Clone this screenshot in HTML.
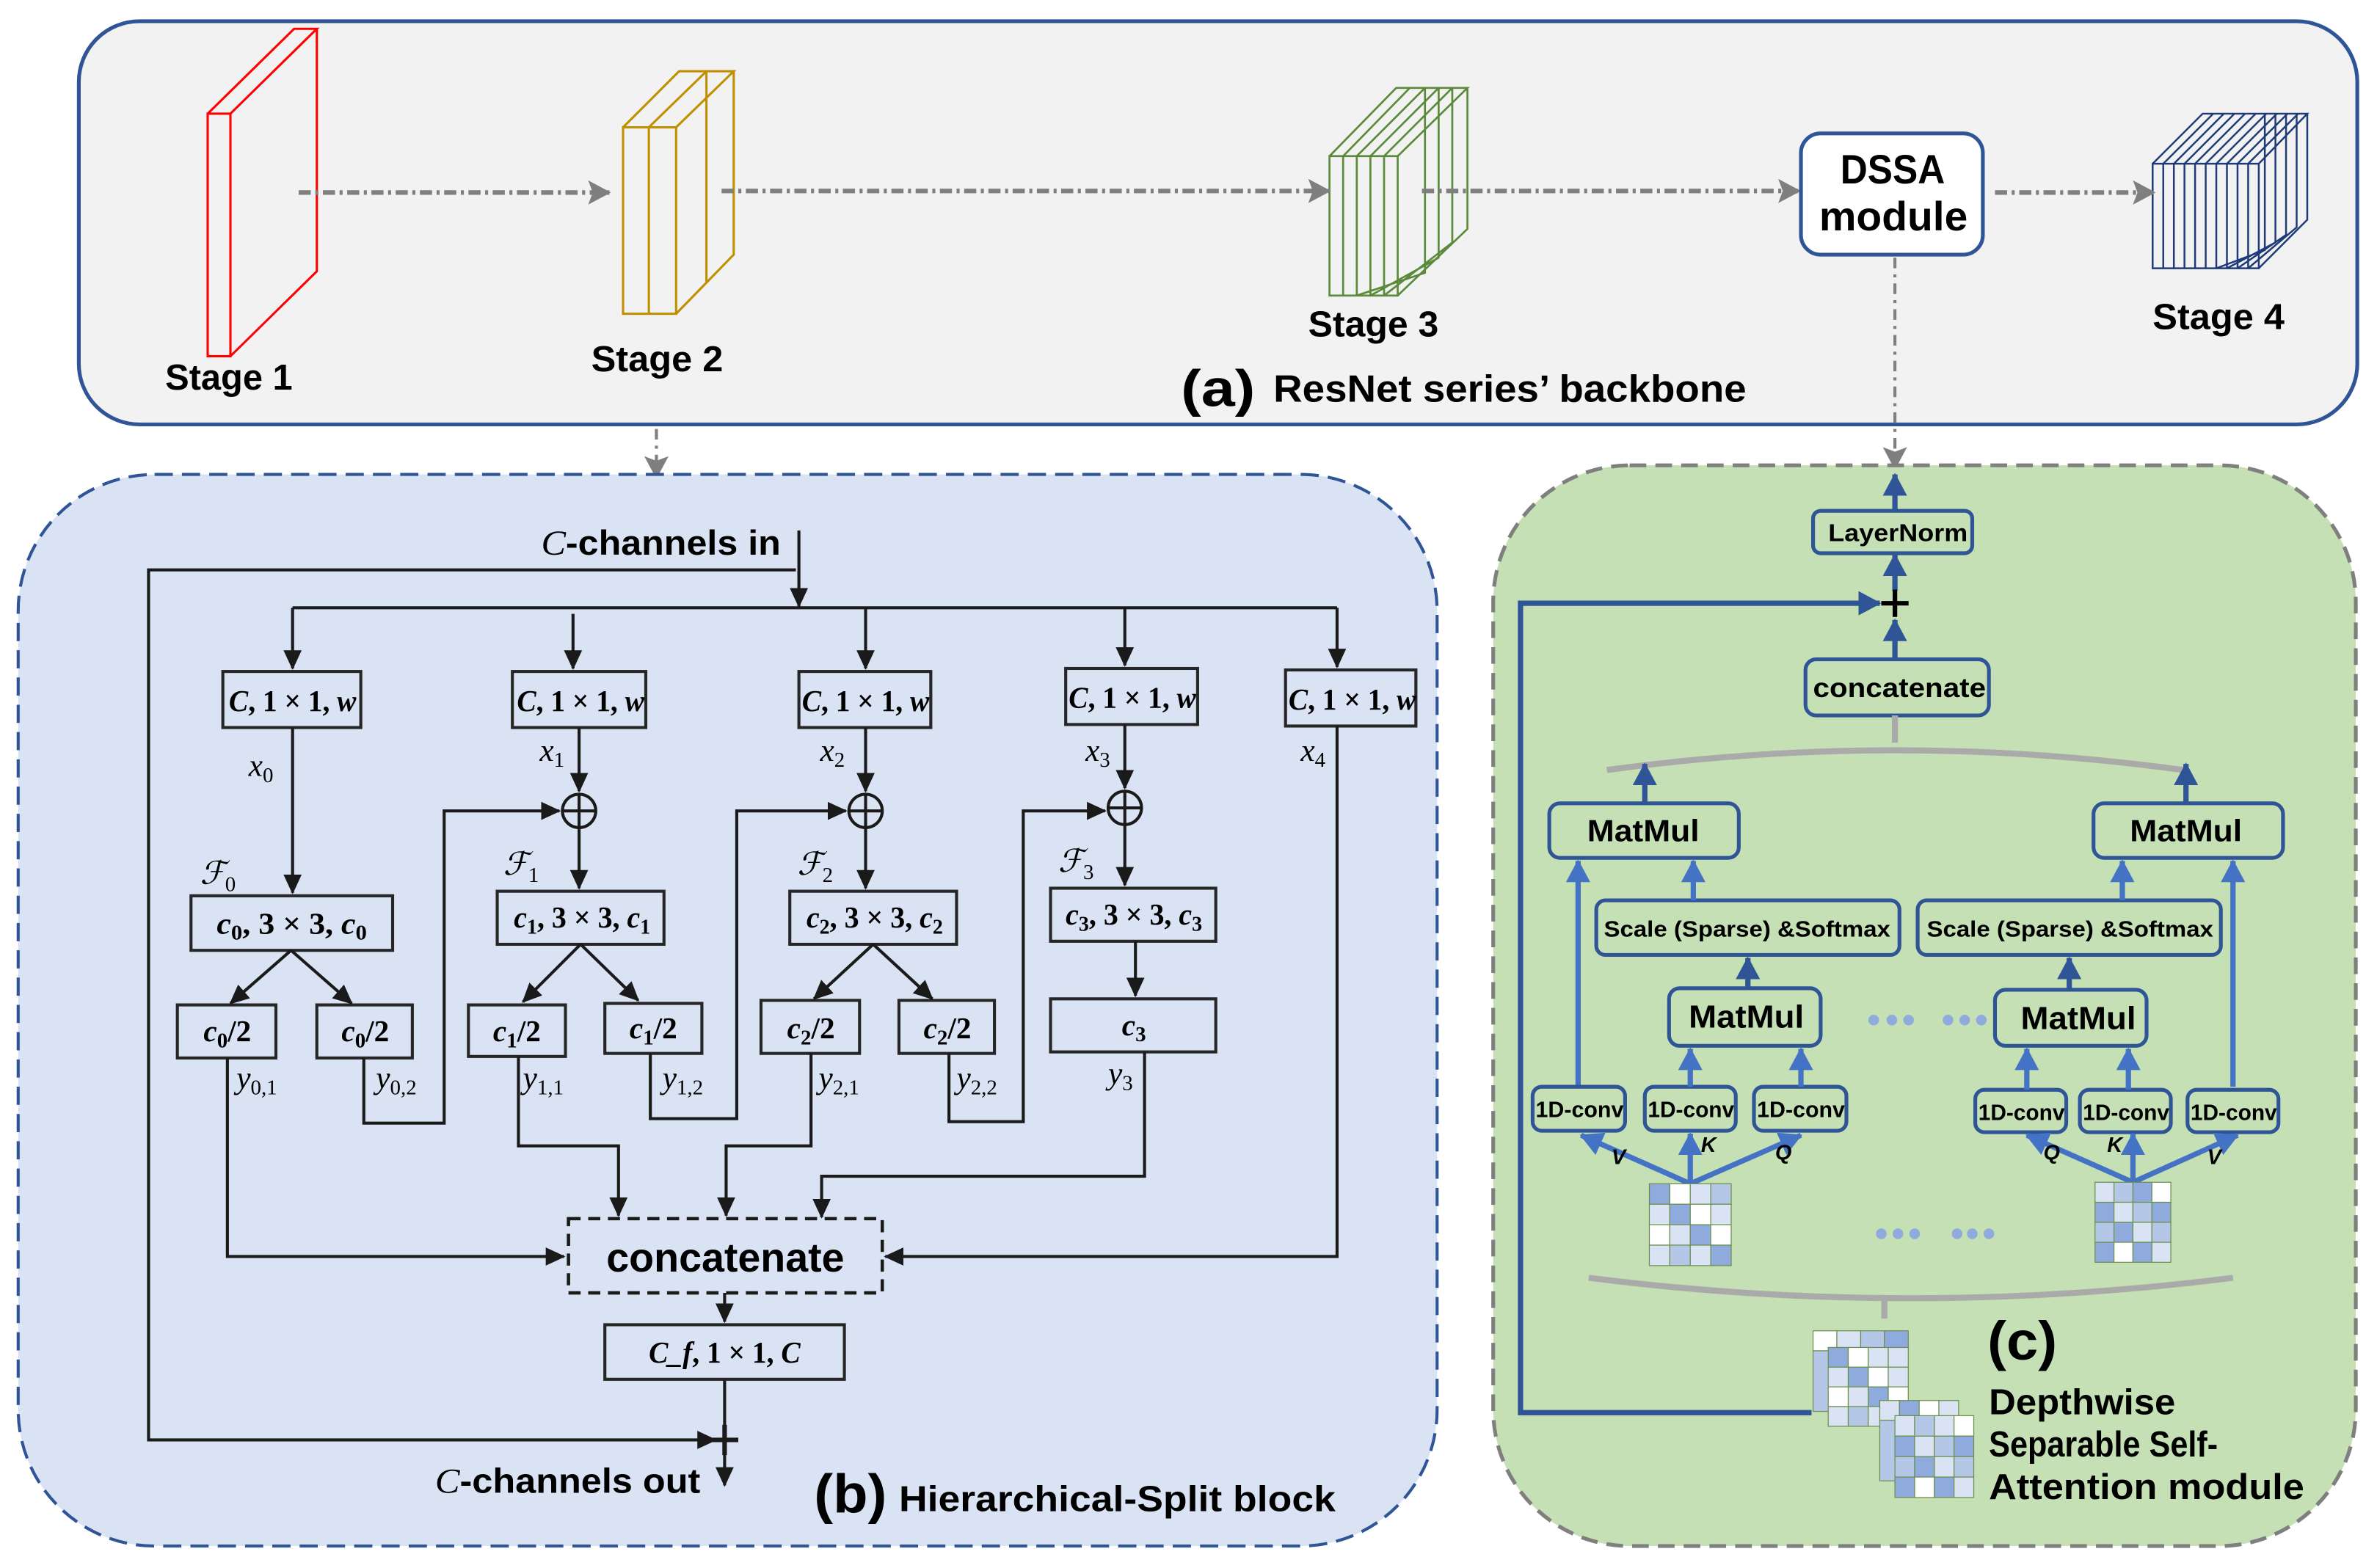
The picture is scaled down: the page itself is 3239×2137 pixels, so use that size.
<!DOCTYPE html>
<html><head><meta charset="utf-8"><style>html,body{margin:0;padding:0;background:#fff}svg{display:block}</style></head><body>
<svg width="3239" height="2137" viewBox="0 0 1568 1034.5" preserveAspectRatio="none" xmlns="http://www.w3.org/2000/svg">
<defs>
<marker id="ab" markerUnits="userSpaceOnUse" markerWidth="14" markerHeight="14" refX="12" refY="7" orient="auto"><path d="M0,1 L13,7 L0,13 Z" fill="#1a1a1a"/></marker>
<marker id="ag" markerUnits="userSpaceOnUse" markerWidth="16" markerHeight="16" refX="14" refY="8" orient="auto"><path d="M0,0 L15,8 L0,16 L3,8 Z" fill="#7f7f7f"/></marker>
<marker id="al" markerUnits="userSpaceOnUse" markerWidth="16" markerHeight="16" refX="14" refY="8" orient="auto"><path d="M0,0 L15,8 L0,16 Z" fill="#4472c4"/></marker>
<marker id="ad" markerUnits="userSpaceOnUse" markerWidth="16" markerHeight="16" refX="14" refY="8" orient="auto"><path d="M0,0 L15,8 L0,16 Z" fill="#2f5597"/></marker>
</defs>
<style>
.b{font-family:"Liberation Sans",sans-serif;font-weight:bold;fill:#000}
.m{font-family:"Liberation Serif",serif;fill:#000}
.i{font-style:italic}
.bx{fill:none;stroke:#262626;stroke-width:2}
.ln{fill:none;stroke:#1a1a1a;stroke-width:2}
.cb{fill:#c5e0b4;stroke:#2f5597;stroke-width:2.5}
.lb{stroke:#4472c4;stroke-width:3.5;fill:none}
.db{stroke:#2f5597;stroke-width:3.5;fill:none}
</style>

<!-- Panel (a) -->
<rect x="52" y="14" width="1503" height="266" rx="40" fill="#f2f2f2" stroke="#2f5597" stroke-width="2.5"/>
<g fill="none" stroke="#ff0000" stroke-width="1.5">
<rect x="137" y="75" width="15" height="160"/>
<path d="M137,75 L194,19 L209,19 L152,75 M209,19 L209,179 L152,235"/>
</g>
<g fill="none" stroke="#c09000" stroke-width="1.5">
<rect x="411" y="84" width="35" height="123"/>
<path d="M428,84 V207 M411,84 L448,47 L484,47 L446,84 M466,47 L428,84 M484,47 V168 L446,207 M466,47 V187"/>
</g>
<g fill="none" stroke="#5a8a3a" stroke-width="1.3">
<rect x="877" y="103" width="45" height="92"/>
<path d="M886,103 V195 M895,103 V195 M904,103 V195 M913,103 V195 M877,103 L921,58 L968,58 L922,103 M930,58 L886,103 M940,58 L895,103 M949,58 L904,103 M958,58 L913,103 M968,58 V151 L922,195 M958,58 V160 L913,195 M949,58 V170 L904,195 M940,58 V180 L895,195"/>
</g>
<g fill="none" stroke="#1f3a78" stroke-width="1.2">
<rect x="1420" y="108" width="70" height="69"/>
<path d="M1427,108 V177 M1434,108 V177 M1441,108 V177 M1448,108 V177 M1455,108 V177 M1462,108 V177 M1469,108 V177 M1476,108 V177 M1483,108 V177 M1420,108 L1453,75 L1522,75 L1490,108 M1522,75 V145 L1490,177"/>
<path d="M1460,75 L1427,108 M1467,75 L1434,108 M1474,75 L1441,108 M1481,75 L1448,108 M1488,75 L1455,108 M1495,75 L1462,108 M1502,75 L1469,108 M1509,75 L1476,108 M1516,75 L1483,108"/>
<path d="M1515,75 V150 L1483,177 M1508,75 V155 L1476,177 M1501,75 V160 L1469,177 M1494,75 V165 L1462,177"/>
</g>
<g stroke="#7f7f7f" stroke-width="3" stroke-dasharray="8,3,2,3" fill="none">
<line x1="197" y1="127" x2="402" y2="127" marker-end="url(#ag)"/>
<line x1="476" y1="126" x2="877" y2="126" marker-end="url(#ag)"/>
<line x1="938" y1="126" x2="1187" y2="126" marker-end="url(#ag)"/>
<line x1="1316" y1="127" x2="1421" y2="127" marker-end="url(#ag)"/>
</g>
<rect x="1188" y="88" width="120" height="80" rx="13" fill="#fff" stroke="#2f5597" stroke-width="2.5"/>
<text class="b" x="1214" y="121" font-size="27" textLength="69" lengthAdjust="spacingAndGlyphs">DSSA</text>
<text class="b" x="1200" y="152" font-size="27" textLength="98" lengthAdjust="spacingAndGlyphs">module</text>
<text class="b" x="109" y="257" font-size="24" textLength="84" lengthAdjust="spacingAndGlyphs">Stage 1</text>
<text class="b" x="390" y="245" font-size="24" textLength="87" lengthAdjust="spacingAndGlyphs">Stage 2</text>
<text class="b" x="863" y="222" font-size="24" textLength="86" lengthAdjust="spacingAndGlyphs">Stage 3</text>
<text class="b" x="1420" y="217" font-size="24" textLength="87" lengthAdjust="spacingAndGlyphs">Stage 4</text>
<text class="b" x="779" y="268" font-size="34" textLength="49" lengthAdjust="spacingAndGlyphs">(a)</text>
<text class="b" x="840" y="265" font-size="25" textLength="312" lengthAdjust="spacingAndGlyphs">ResNet series’ backbone</text>
<g stroke="#7f7f7f" stroke-width="2" stroke-dasharray="7,4,2,4" fill="none">
<line x1="433" y1="283" x2="433" y2="315" marker-end="url(#ag)"/>
<line x1="1250" y1="170" x2="1250" y2="309" marker-end="url(#ag)"/>
</g>

<!-- Panel (b) -->
<rect x="12" y="313" width="936" height="707" rx="90" fill="#dae3f3" stroke="#2f5597" stroke-width="2" stroke-dasharray="12,6"/>
<text class="b" x="357" y="366" font-size="23" textLength="158" lengthAdjust="spacingAndGlyphs"><tspan class="m i" font-weight="normal">C</tspan>-channels in</text>
<line class="ln" x1="527" y1="350" x2="527" y2="400" marker-end="url(#ab)"/>
<path class="ln" d="M525,376 H98 V950 H472" marker-end="url(#ab)"/>
<path class="ln" d="M193,401 H882"/>
<g class="ln">
<line x1="193" y1="401" x2="193" y2="441" marker-end="url(#ab)"/>
<line x1="378" y1="405" x2="378" y2="441" marker-end="url(#ab)"/>
<line x1="571" y1="401" x2="571" y2="441" marker-end="url(#ab)"/>
<line x1="742" y1="401" x2="742" y2="439" marker-end="url(#ab)"/>
<line x1="882" y1="401" x2="882" y2="440" marker-end="url(#ab)"/>
</g>
<g class="bx">
<rect x="147" y="443" width="91" height="37"/><rect x="338" y="443" width="88" height="37"/><rect x="527" y="443" width="87" height="37"/><rect x="703" y="441" width="87" height="37"/><rect x="848" y="442" width="86" height="37"/>
</g>
<g class="m" font-size="20" font-weight="bold">
<text x="151" y="469" textLength="84" lengthAdjust="spacingAndGlyphs"><tspan class="i">C</tspan>, 1 × 1, <tspan class="i">w</tspan></text>
<text x="341" y="469" textLength="84" lengthAdjust="spacingAndGlyphs"><tspan class="i">C</tspan>, 1 × 1, <tspan class="i">w</tspan></text>
<text x="529" y="469" textLength="84" lengthAdjust="spacingAndGlyphs"><tspan class="i">C</tspan>, 1 × 1, <tspan class="i">w</tspan></text>
<text x="705" y="467" textLength="84" lengthAdjust="spacingAndGlyphs"><tspan class="i">C</tspan>, 1 × 1, <tspan class="i">w</tspan></text>
<text x="850" y="468" textLength="84" lengthAdjust="spacingAndGlyphs"><tspan class="i">C</tspan>, 1 × 1, <tspan class="i">w</tspan></text>
</g>
<g class="m" font-size="21">
<text x="164" y="512"><tspan class="i">x</tspan><tspan font-size="14" dy="4">0</tspan></text>
<text x="356" y="502"><tspan class="i">x</tspan><tspan font-size="14" dy="4">1</tspan></text>
<text x="541" y="502"><tspan class="i">x</tspan><tspan font-size="14" dy="4">2</tspan></text>
<text x="716" y="502"><tspan class="i">x</tspan><tspan font-size="14" dy="4">3</tspan></text>
<text x="858" y="502"><tspan class="i">x</tspan><tspan font-size="14" dy="4">4</tspan></text>
<text x="132" y="583"><tspan class="i">ℱ</tspan><tspan font-size="14" dy="5">0</tspan></text>
<text x="332" y="577"><tspan class="i">ℱ</tspan><tspan font-size="14" dy="5">1</tspan></text>
<text x="526" y="577"><tspan class="i">ℱ</tspan><tspan font-size="14" dy="5">2</tspan></text>
<text x="698" y="575"><tspan class="i">ℱ</tspan><tspan font-size="14" dy="5">3</tspan></text>
<text x="156" y="718"><tspan class="i">y</tspan><tspan font-size="14" dy="4">0,1</tspan></text>
<text x="248" y="718"><tspan class="i">y</tspan><tspan font-size="14" dy="4">0,2</tspan></text>
<text x="345" y="718"><tspan class="i">y</tspan><tspan font-size="14" dy="4">1,1</tspan></text>
<text x="437" y="718"><tspan class="i">y</tspan><tspan font-size="14" dy="4">1,2</tspan></text>
<text x="540" y="718"><tspan class="i">y</tspan><tspan font-size="14" dy="4">2,1</tspan></text>
<text x="631" y="718"><tspan class="i">y</tspan><tspan font-size="14" dy="4">2,2</tspan></text>
<text x="731" y="715"><tspan class="i">y</tspan><tspan font-size="14" dy="4">3</tspan></text>
</g>
<g fill="none" stroke="#1a1a1a" stroke-width="2">
<circle cx="382" cy="535" r="11"/><path d="M371,535 H393 M382,524 V546"/>
<circle cx="571" cy="535" r="11"/><path d="M560,535 H582 M571,524 V546"/>
<circle cx="742" cy="533" r="11"/><path d="M731,533 H753 M742,522 V544"/>
</g>
<g class="ln">
<line x1="193" y1="480" x2="193" y2="589" marker-end="url(#ab)"/>
<line x1="382" y1="480" x2="382" y2="522" marker-end="url(#ab)"/>
<line x1="382" y1="546" x2="382" y2="586" marker-end="url(#ab)"/>
<line x1="571" y1="480" x2="571" y2="522" marker-end="url(#ab)"/>
<line x1="571" y1="546" x2="571" y2="586" marker-end="url(#ab)"/>
<line x1="742" y1="478" x2="742" y2="520" marker-end="url(#ab)"/>
<line x1="742" y1="544" x2="742" y2="584" marker-end="url(#ab)"/>
</g>
<g class="bx">
<rect x="126" y="591" width="133" height="36"/><rect x="328" y="588" width="110" height="35"/><rect x="521" y="588" width="110" height="35"/><rect x="693" y="586" width="109" height="35"/>
<rect x="117" y="663" width="65" height="35"/><rect x="209" y="663" width="63" height="35"/>
<rect x="309" y="663" width="64" height="34"/><rect x="399" y="662" width="64" height="33"/>
<rect x="502" y="660" width="65" height="35"/><rect x="593" y="660" width="63" height="35"/>
<rect x="693" y="659" width="109" height="35"/>
</g>
<g class="m" font-size="20" font-weight="bold">
<text x="143" y="616" textLength="99" lengthAdjust="spacingAndGlyphs"><tspan class="i">c</tspan><tspan font-size="14" dy="4">0</tspan><tspan dy="-4">, 3 × 3, </tspan><tspan class="i">c</tspan><tspan font-size="14" dy="4">0</tspan></text>
<text x="339" y="612" textLength="90" lengthAdjust="spacingAndGlyphs"><tspan class="i">c</tspan><tspan font-size="14" dy="4">1</tspan><tspan dy="-4">, 3 × 3, </tspan><tspan class="i">c</tspan><tspan font-size="14" dy="4">1</tspan></text>
<text x="532" y="612" textLength="90" lengthAdjust="spacingAndGlyphs"><tspan class="i">c</tspan><tspan font-size="14" dy="4">2</tspan><tspan dy="-4">, 3 × 3, </tspan><tspan class="i">c</tspan><tspan font-size="14" dy="4">2</tspan></text>
<text x="703" y="610" textLength="90" lengthAdjust="spacingAndGlyphs"><tspan class="i">c</tspan><tspan font-size="14" dy="4">3</tspan><tspan dy="-4">, 3 × 3, </tspan><tspan class="i">c</tspan><tspan font-size="14" dy="4">3</tspan></text>
<g text-anchor="middle">
<text x="150" y="687"><tspan class="i">c</tspan><tspan font-size="14" dy="4">0</tspan><tspan dy="-4">/2</tspan></text>
<text x="241" y="687"><tspan class="i">c</tspan><tspan font-size="14" dy="4">0</tspan><tspan dy="-4">/2</tspan></text>
<text x="341" y="687"><tspan class="i">c</tspan><tspan font-size="14" dy="4">1</tspan><tspan dy="-4">/2</tspan></text>
<text x="431" y="685"><tspan class="i">c</tspan><tspan font-size="14" dy="4">1</tspan><tspan dy="-4">/2</tspan></text>
<text x="535" y="685"><tspan class="i">c</tspan><tspan font-size="14" dy="4">2</tspan><tspan dy="-4">/2</tspan></text>
<text x="625" y="685"><tspan class="i">c</tspan><tspan font-size="14" dy="4">2</tspan><tspan dy="-4">/2</tspan></text>
<text x="748" y="683"><tspan class="i">c</tspan><tspan font-size="14" dy="4">3</tspan></text>
</g>
</g>
<g class="ln">
<line x1="192" y1="627" x2="152" y2="662" marker-end="url(#ab)"/>
<line x1="192" y1="627" x2="232" y2="662" marker-end="url(#ab)"/>
<line x1="383" y1="623" x2="345" y2="661" marker-end="url(#ab)"/>
<line x1="383" y1="623" x2="421" y2="660" marker-end="url(#ab)"/>
<line x1="576" y1="623" x2="537" y2="659" marker-end="url(#ab)"/>
<line x1="576" y1="623" x2="615" y2="659" marker-end="url(#ab)"/>
<line x1="749" y1="621" x2="749" y2="657" marker-end="url(#ab)"/>
<path d="M150,698 V829 H372" marker-end="url(#ab)"/>
<path d="M240,698 V741 H293 V535 H369" marker-end="url(#ab)"/>
<path d="M342,697 V756 H408 V802" marker-end="url(#ab)"/>
<path d="M429,695 V738 H486 V535 H558" marker-end="url(#ab)"/>
<path d="M535,695 V756 H479 V802" marker-end="url(#ab)"/>
<path d="M626,695 V740 H675 V535 H729" marker-end="url(#ab)"/>
<path d="M755,694 V776 H542 V803" marker-end="url(#ab)"/>
<path d="M882,479 V829 H584" marker-end="url(#ab)"/>
<line x1="478" y1="853" x2="478" y2="872" marker-end="url(#ab)"/>
<line x1="478" y1="910" x2="478" y2="980" marker-end="url(#ab)"/>
<line x1="470" y1="950" x2="487" y2="950" stroke-width="3"/>
<line x1="478" y1="940" x2="478" y2="960" stroke-width="3"/>
</g>
<rect x="375" y="804" width="207" height="49" fill="none" stroke="#1a1a1a" stroke-width="2.2" stroke-dasharray="8,5"/>
<text class="b" x="400" y="839" font-size="27" textLength="157" lengthAdjust="spacingAndGlyphs">concatenate</text>
<rect class="bx" x="399" y="874" width="158" height="36"/>
<text class="m" x="428" y="899" font-size="20" font-weight="bold" textLength="100" lengthAdjust="spacingAndGlyphs"><tspan class="i">C_f</tspan>, 1 × 1, <tspan class="i">C</tspan></text>
<text class="b" x="287" y="985" font-size="23" textLength="175" lengthAdjust="spacingAndGlyphs"><tspan class="m i" font-weight="normal">C</tspan>-channels out</text>
<text class="b" x="537" y="998" font-size="36" textLength="48" lengthAdjust="spacingAndGlyphs">(b)</text>
<text class="b" x="593" y="997" font-size="24" textLength="288" lengthAdjust="spacingAndGlyphs">Hierarchical-Split block</text>

<!-- Panel (c) -->
<rect x="985" y="307" width="569" height="713" rx="90" fill="#c5e0b4" stroke="#7f7f7f" stroke-width="2.5" stroke-dasharray="11,6"/>
<rect class="cb" x="1196" y="337" width="105" height="28" rx="5"/>
<text class="b" x="1206" y="357" font-size="16" textLength="92" lengthAdjust="spacingAndGlyphs">LayerNorm</text>
<line class="db" x1="1250" y1="337" x2="1250" y2="313" marker-end="url(#ad)"/>
<line class="db" x1="1250" y1="390" x2="1250" y2="366" marker-end="url(#ad)"/>
<path class="db" d="M1195,932 H1003 V398 H1240" stroke-width="3" marker-end="url(#ad)"/>
<path d="M1241,398 H1259 M1250,389 V407" stroke="#000" stroke-width="3"/>
<line class="db" x1="1250" y1="435" x2="1250" y2="409" marker-end="url(#ad)"/>
<rect class="cb" x="1191" y="435" width="121" height="37" rx="7"/>
<text class="b" x="1196" y="460" font-size="18" textLength="114" lengthAdjust="spacingAndGlyphs">concatenate</text>
<path d="M1250,472 V490 M1060,508 Q1250,482 1440,508" stroke="#aaaaaa" stroke-width="4" fill="none"/>
<rect class="cb" x="1022" y="530" width="125" height="36" rx="7"/>
<rect class="cb" x="1381" y="530" width="125" height="36" rx="7"/>
<text class="b" x="1047" y="555" font-size="20" textLength="74" lengthAdjust="spacingAndGlyphs">MatMul</text>
<text class="b" x="1405" y="555" font-size="20" textLength="74" lengthAdjust="spacingAndGlyphs">MatMul</text>
<line class="db" x1="1085" y1="530" x2="1085" y2="504" marker-end="url(#ad)"/>
<line class="db" x1="1442" y1="530" x2="1442" y2="504" marker-end="url(#ad)"/>
<rect class="cb" x="1053" y="594" width="200" height="36" rx="6"/>
<rect class="cb" x="1265" y="594" width="200" height="36" rx="6"/>
<text class="b" x="1058" y="618" font-size="15" textLength="189" lengthAdjust="spacingAndGlyphs">Scale (Sparse) &amp;Softmax</text>
<text class="b" x="1271" y="618" font-size="15" textLength="189" lengthAdjust="spacingAndGlyphs">Scale (Sparse) &amp;Softmax</text>
<line class="lb" x1="1117" y1="594" x2="1117" y2="568" marker-end="url(#al)"/>
<line class="lb" x1="1400" y1="594" x2="1400" y2="568" marker-end="url(#al)"/>
<line class="lb" x1="1041" y1="716" x2="1041" y2="568" marker-end="url(#al)"/>
<line class="lb" x1="1473" y1="717" x2="1473" y2="568" marker-end="url(#al)"/>
<rect class="cb" x="1101" y="652" width="100" height="38" rx="7"/>
<rect class="cb" x="1316" y="653" width="100" height="37" rx="7"/>
<text class="b" x="1114" y="678" font-size="21" textLength="76" lengthAdjust="spacingAndGlyphs">MatMul</text>
<text class="b" x="1333" y="679" font-size="21" textLength="76" lengthAdjust="spacingAndGlyphs">MatMul</text>
<line class="db" x1="1153" y1="652" x2="1153" y2="632" marker-end="url(#ad)"/>
<line class="db" x1="1365" y1="653" x2="1365" y2="632" marker-end="url(#ad)"/>
<g class="cb">
<rect x="1011" y="717" width="61" height="29" rx="6"/><rect x="1085" y="717" width="60" height="29" rx="6"/><rect x="1157" y="717" width="61" height="29" rx="6"/>
<rect x="1303" y="719" width="60" height="28" rx="6"/><rect x="1372" y="719" width="60" height="28" rx="6"/><rect x="1443" y="719" width="60" height="28" rx="6"/>
</g>
<g class="b" font-size="15">
<text x="1013" y="737" textLength="58" lengthAdjust="spacingAndGlyphs">1D-conv</text><text x="1087" y="737" textLength="57" lengthAdjust="spacingAndGlyphs">1D-conv</text><text x="1159" y="737" textLength="58" lengthAdjust="spacingAndGlyphs">1D-conv</text>
<text x="1305" y="739" textLength="57" lengthAdjust="spacingAndGlyphs">1D-conv</text><text x="1374" y="739" textLength="57" lengthAdjust="spacingAndGlyphs">1D-conv</text><text x="1445" y="739" textLength="57" lengthAdjust="spacingAndGlyphs">1D-conv</text>
</g>
<g class="lb">
<line x1="1115" y1="717" x2="1115" y2="692" marker-end="url(#al)"/>
<line x1="1188" y1="717" x2="1188" y2="692" marker-end="url(#al)"/>
<line x1="1337" y1="719" x2="1337" y2="692" marker-end="url(#al)"/>
<line x1="1404" y1="719" x2="1404" y2="692" marker-end="url(#al)"/>
<line x1="1115" y1="781" x2="1043" y2="749" marker-end="url(#al)"/>
<line x1="1115" y1="781" x2="1115" y2="748" marker-end="url(#al)"/>
<line x1="1115" y1="781" x2="1188" y2="749" marker-end="url(#al)"/>
<line x1="1407" y1="780" x2="1337" y2="749" marker-end="url(#al)"/>
<line x1="1407" y1="780" x2="1407" y2="748" marker-end="url(#al)"/>
<line x1="1407" y1="780" x2="1476" y2="749" marker-end="url(#al)"/>
</g>
<g class="b" font-size="14" font-style="italic">
<text x="1063" y="768">V</text><text x="1122" y="760">K</text><text x="1171" y="765">Q</text>
<text x="1348" y="765">Q</text><text x="1390" y="760">K</text><text x="1456" y="768">V</text>
</g>
<g fill="#8faadc">
<circle cx="1236" cy="673" r="3.5"/><circle cx="1248" cy="673" r="3.5"/><circle cx="1259" cy="673" r="3.5"/>
<circle cx="1285" cy="673" r="3.5"/><circle cx="1296" cy="673" r="3.5"/><circle cx="1307" cy="673" r="3.5"/>
<circle cx="1241" cy="814" r="3.5"/><circle cx="1252" cy="814" r="3.5"/><circle cx="1263" cy="814" r="3.5"/>
<circle cx="1291" cy="814" r="3.5"/><circle cx="1301" cy="814" r="3.5"/><circle cx="1312" cy="814" r="3.5"/>
</g>
<path d="M1048,843 Q1260,870 1473,843 M1243,856 V870" stroke="#aaaaaa" stroke-width="4" fill="none"/>
<g stroke="#6b8e4e" stroke-width="0.6">
<g transform="translate(1088,781)">
<rect x="0" y="0" width="13.5" height="13.5" fill="#8faadc"/><rect x="13.5" y="0" width="13.5" height="13.5" fill="#fff"/><rect x="27" y="0" width="13.5" height="13.5" fill="#dae3f3"/><rect x="40.5" y="0" width="13.5" height="13.5" fill="#b4c7e7"/>
<rect x="0" y="13.5" width="13.5" height="13.5" fill="#dae3f3"/><rect x="13.5" y="13.5" width="13.5" height="13.5" fill="#8faadc"/><rect x="27" y="13.5" width="13.5" height="13.5" fill="#fff"/><rect x="40.5" y="13.5" width="13.5" height="13.5" fill="#dae3f3"/>
<rect x="0" y="27" width="13.5" height="13.5" fill="#fff"/><rect x="13.5" y="27" width="13.5" height="13.5" fill="#dae3f3"/><rect x="27" y="27" width="13.5" height="13.5" fill="#8faadc"/><rect x="40.5" y="27" width="13.5" height="13.5" fill="#fff"/>
<rect x="0" y="40.5" width="13.5" height="13.5" fill="#dae3f3"/><rect x="13.5" y="40.5" width="13.5" height="13.5" fill="#b4c7e7"/><rect x="27" y="40.5" width="13.5" height="13.5" fill="#dae3f3"/><rect x="40.5" y="40.5" width="13.5" height="13.5" fill="#8faadc"/>
</g>
<g transform="translate(1382,780)">
<rect x="0" y="0" width="12.5" height="13.2" fill="#dae3f3"/><rect x="12.5" y="0" width="12.5" height="13.2" fill="#b4c7e7"/><rect x="25" y="0" width="12.5" height="13.2" fill="#8faadc"/><rect x="37.5" y="0" width="12.5" height="13.2" fill="#fff"/>
<rect x="0" y="13.2" width="12.5" height="13.2" fill="#8faadc"/><rect x="12.5" y="13.2" width="12.5" height="13.2" fill="#dae3f3"/><rect x="25" y="13.2" width="12.5" height="13.2" fill="#b4c7e7"/><rect x="37.5" y="13.2" width="12.5" height="13.2" fill="#8faadc"/>
<rect x="0" y="26.4" width="12.5" height="13.2" fill="#b4c7e7"/><rect x="12.5" y="26.4" width="12.5" height="13.2" fill="#8faadc"/><rect x="25" y="26.4" width="12.5" height="13.2" fill="#dae3f3"/><rect x="37.5" y="26.4" width="12.5" height="13.2" fill="#b4c7e7"/>
<rect x="0" y="39.6" width="12.5" height="13.2" fill="#8faadc"/><rect x="12.5" y="39.6" width="12.5" height="13.2" fill="#fff"/><rect x="25" y="39.6" width="12.5" height="13.2" fill="#8faadc"/><rect x="37.5" y="39.6" width="12.5" height="13.2" fill="#dae3f3"/>
</g>
<g transform="translate(1196,878)">
<rect x="0" y="0" width="15.7" height="13.2" fill="#fff"/><rect x="15.7" y="0" width="15.7" height="13.2" fill="#dae3f3"/><rect x="31.4" y="0" width="15.7" height="13.2" fill="#b4c7e7"/><rect x="47.1" y="0" width="15.7" height="13.2" fill="#8faadc"/>
<rect x="0" y="13.2" width="15.7" height="40" fill="#b4c7e7"/>
</g>
<g transform="translate(1206,889)">
<rect x="0" y="0" width="13.2" height="13" fill="#8faadc"/><rect x="13.2" y="0" width="13.2" height="13" fill="#fff"/><rect x="26.4" y="0" width="13.2" height="13" fill="#dae3f3"/><rect x="39.6" y="0" width="13.2" height="13" fill="#dae3f3"/>
<rect x="0" y="13" width="13.2" height="13" fill="#dae3f3"/><rect x="13.2" y="13" width="13.2" height="13" fill="#8faadc"/><rect x="26.4" y="13" width="13.2" height="13" fill="#fff"/><rect x="39.6" y="13" width="13.2" height="13" fill="#dae3f3"/>
<rect x="0" y="26" width="13.2" height="13" fill="#fff"/><rect x="13.2" y="26" width="13.2" height="13" fill="#dae3f3"/><rect x="26.4" y="26" width="13.2" height="13" fill="#8faadc"/><rect x="39.6" y="26" width="13.2" height="13" fill="#fff"/>
<rect x="0" y="39" width="13.2" height="13" fill="#dae3f3"/><rect x="13.2" y="39" width="13.2" height="13" fill="#b4c7e7"/><rect x="26.4" y="39" width="13.2" height="13" fill="#dae3f3"/><rect x="39.6" y="39" width="13.2" height="13" fill="#8faadc"/>
</g>
<g transform="translate(1240,924)">
<rect x="0" y="0" width="13" height="13" fill="#dae3f3"/><rect x="13" y="0" width="13" height="13" fill="#8faadc"/><rect x="26" y="0" width="13" height="13" fill="#fff"/><rect x="39" y="0" width="13" height="13" fill="#dae3f3"/>
<rect x="0" y="13" width="13" height="40" fill="#b4c7e7"/>
</g>
<g transform="translate(1250,934)">
<rect x="0" y="0" width="13" height="13.5" fill="#dae3f3"/><rect x="13" y="0" width="13" height="13.5" fill="#b4c7e7"/><rect x="26" y="0" width="13" height="13.5" fill="#dae3f3"/><rect x="39" y="0" width="13" height="13.5" fill="#fff"/>
<rect x="0" y="13.5" width="13" height="13.5" fill="#8faadc"/><rect x="13" y="13.5" width="13" height="13.5" fill="#dae3f3"/><rect x="26" y="13.5" width="13" height="13.5" fill="#b4c7e7"/><rect x="39" y="13.5" width="13" height="13.5" fill="#8faadc"/>
<rect x="0" y="27" width="13" height="13.5" fill="#b4c7e7"/><rect x="13" y="27" width="13" height="13.5" fill="#8faadc"/><rect x="26" y="27" width="13" height="13.5" fill="#dae3f3"/><rect x="39" y="27" width="13" height="13.5" fill="#b4c7e7"/>
<rect x="0" y="40.5" width="13" height="13.5" fill="#8faadc"/><rect x="13" y="40.5" width="13" height="13.5" fill="#fff"/><rect x="26" y="40.5" width="13" height="13.5" fill="#8faadc"/><rect x="39" y="40.5" width="13" height="13.5" fill="#dae3f3"/>
</g>
</g>
<text class="b" x="1311" y="897" font-size="36" textLength="46" lengthAdjust="spacingAndGlyphs">(c)</text>
<text class="b" x="1312" y="933" font-size="24" textLength="123" lengthAdjust="spacingAndGlyphs">Depthwise</text>
<text class="b" x="1312" y="961" font-size="24" textLength="151" lengthAdjust="spacingAndGlyphs">Separable Self-</text>
<text class="b" x="1312" y="989" font-size="24" textLength="208" lengthAdjust="spacingAndGlyphs">Attention module</text>
</svg>
</body></html>
